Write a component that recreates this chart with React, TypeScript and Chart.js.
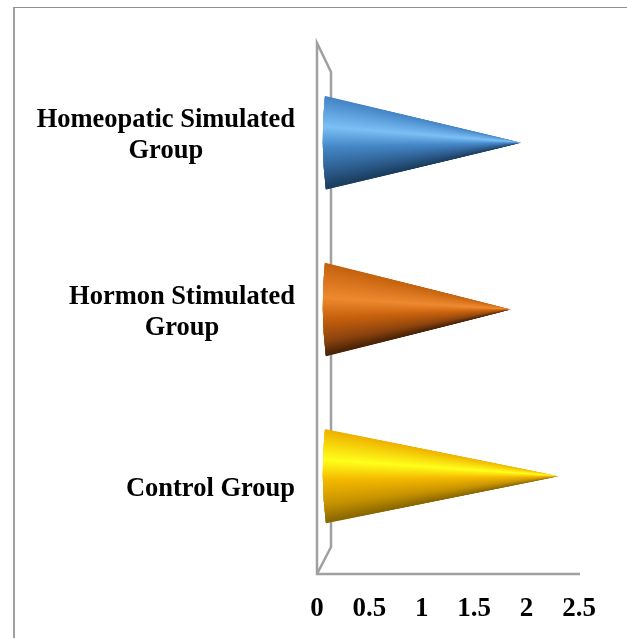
import React, { useEffect, useRef } from "react";
import Chart from "chart.js/auto";

const categories: string[][] = [["Homeopatic Simulated", "Group"], ["Hormon Stimulated", "Group"], ["Control Group"]];
const values: number[] = [1.88, 1.78, 2.24];
const blueStops: [number, string][] = [[0, "#4484c6"], [0.33, "#7cc0f6"], [0.55, "#4688c8"], [0.8, "#2f5f90"], [1, "#1c3e5e"]];
const orangeStops: [number, string][] = [[0, "#c4620f"], [0.38, "#ee8a30"], [0.6, "#c8620e"], [0.85, "#8a4410"], [1, "#4a2408"]];
const yellowStops: [number, string][] = [[0, "#eeb000"], [0.33, "#ffff1c"], [0.55, "#f4b800"], [0.8, "#c89400"], [1, "#8a6800"]];
const shades = [blueStops, orangeStops, yellowStops];

const FONT = '"Liberation Serif", serif';
const AXIS = "#a0a0a0";
const DEPTH = 14;

function hex(c: string) {
  return [1, 3, 5].map((i) => parseInt(c.slice(i, i + 2), 16));
}
function colorAt(stops: [number, string][], t: number) {
  for (let i = 1; i < stops.length; i++) {
    if (t <= stops[i][0]) {
      const f = (t - stops[i - 1][0]) / (stops[i][0] - stops[i - 1][0]);
      const a = hex(stops[i - 1][1]);
      const b = hex(stops[i][1]);
      return `rgb(${a.map((v, k) => Math.round(v + (b[k] - v) * f)).join(",")})`;
    }
  }
  return stops[stops.length - 1][1];
}

const conePlugin = {
  id: "cones",
  afterLayout(chart: any) {
    const { y, yBars } = chart.scales;
    yBars.top = y.top + 16.5;
    yBars.bottom = y.bottom - 14.5;
    yBars.configure();
  },
  beforeDatasetsDraw(chart: any) {
    const { ctx, scales } = chart;
    const { x, y } = scales;
    const x0 = x.left, x1 = x0 + DEPTH, top = y.top, bot = y.bottom;
    ctx.save();
    ctx.strokeStyle = AXIS;
    ctx.lineWidth = 2.5;
    ctx.lineJoin = "miter";
    ctx.beginPath();
    ctx.moveTo(x.right + 1, bot);
    ctx.lineTo(x0, bot);
    ctx.lineTo(x0, top);
    ctx.lineTo(x1, top + 29);
    ctx.lineTo(x1, bot - 27);
    ctx.lineTo(x0, bot);
    ctx.stroke();
    ctx.restore();
  },
  afterDatasetsDraw(chart: any) {
    const { ctx } = chart;
    const bars = chart.getDatasetMeta(0).data;
    bars.forEach((el: any, idx: number) => {
      const baseX = el.base + DEPTH / 2 + 1;
      const tipX = el.x + DEPTH / 2;
      const h = el.height;
      const yT = el.y - h / 2, yB = el.y + h / 2;
      const bulge = 5;
      ctx.save();
      ctx.beginPath();
      ctx.moveTo(tipX, el.y);
      ctx.lineTo(baseX, yT);
      ctx.quadraticCurveTo(baseX - bulge, el.y, baseX + 1, yB);
      ctx.closePath();
      ctx.clip();
      const n = 200;
      for (let i = 0; i < n; i++) {
        const t = (i + 0.5) / n;
        ctx.fillStyle = colorAt(shades[idx], t);
        ctx.beginPath();
        ctx.moveTo(tipX + 2, el.y);
        ctx.lineTo(baseX - bulge - 2, yT + (h * i) / n - 0.5);
        ctx.lineTo(baseX - bulge - 2, yT + (h * (i + 1)) / n + 0.8);
        ctx.closePath();
        ctx.fill();
      }
      ctx.restore();
    });

    const y = chart.scales.y;
    ctx.save();
    ctx.font = `bold 26.5px ${FONT}`;
    ctx.fillStyle = "#000";
    ctx.textBaseline = "middle";
    ctx.textAlign = "center";
    const right = chart.scales.x.left - 22;
    categories.forEach((lines, i) => {
      const cy = y.getPixelForTick(i) + 4;
      const widest = Math.max(...lines.map((l) => ctx.measureText(l).width));
      lines.forEach((l, j) => {
        ctx.fillText(l, right - widest / 2, cy + (j - (lines.length - 1) / 2) * 31);
      });
    });
    ctx.restore();
  },
};

export default function App() {
  const ref = useRef<HTMLCanvasElement>(null);
  useEffect(() => {
    const chart = new Chart(ref.current!, {
      type: "bar",
      data: {
        labels: categories,
        datasets: [
          {
            data: values,
            yAxisID: "yBars",
            xAxisID: "x",
            backgroundColor: "rgba(0,0,0,0)",
            categoryPercentage: 1,
            barPercentage: 0.575,
          },
        ],
      },
      options: {
        indexAxis: "y",
        animation: false,
        responsive: false,
        layout: { padding: { left: 317, right: 48, top: 43, bottom: 0 } },
        plugins: { legend: { display: false }, tooltip: { enabled: false } },
        scales: {
          x: {
            min: 0,
            max: 2.5,
            position: "bottom",
            grid: { display: false, drawTicks: false },
            border: { display: false },
            afterFit: (s: any) => { s.height = 64; },
            ticks: {
              stepSize: 0.5,
              autoSkip: false,
              maxRotation: 0,
              padding: 19,
              color: "#000",
              callback: (v: any) => String(v),
              font: { family: FONT, size: 27, weight: "bold" },
            },
          },
          y: { type: "category", display: false },
          yBars: { type: "category", display: false },
        },
      } as any,
      plugins: [conePlugin],
    });
    return () => chart.destroy();
  }, []);
  return (
    <div style={{ position: "absolute", left: 0, top: 0, width: 627, height: 638, overflow: "hidden", background: "#fff" }}>
      <div style={{ position: "absolute", left: 13, top: 7, width: 620, height: 640, borderLeft: "2px solid #a0a0a0", borderTop: "1px solid #909090" }} />
      <canvas ref={ref} width={627} height={638} style={{ position: "absolute", left: 0, top: 0, display: "block" }} />
    </div>
  );
}
